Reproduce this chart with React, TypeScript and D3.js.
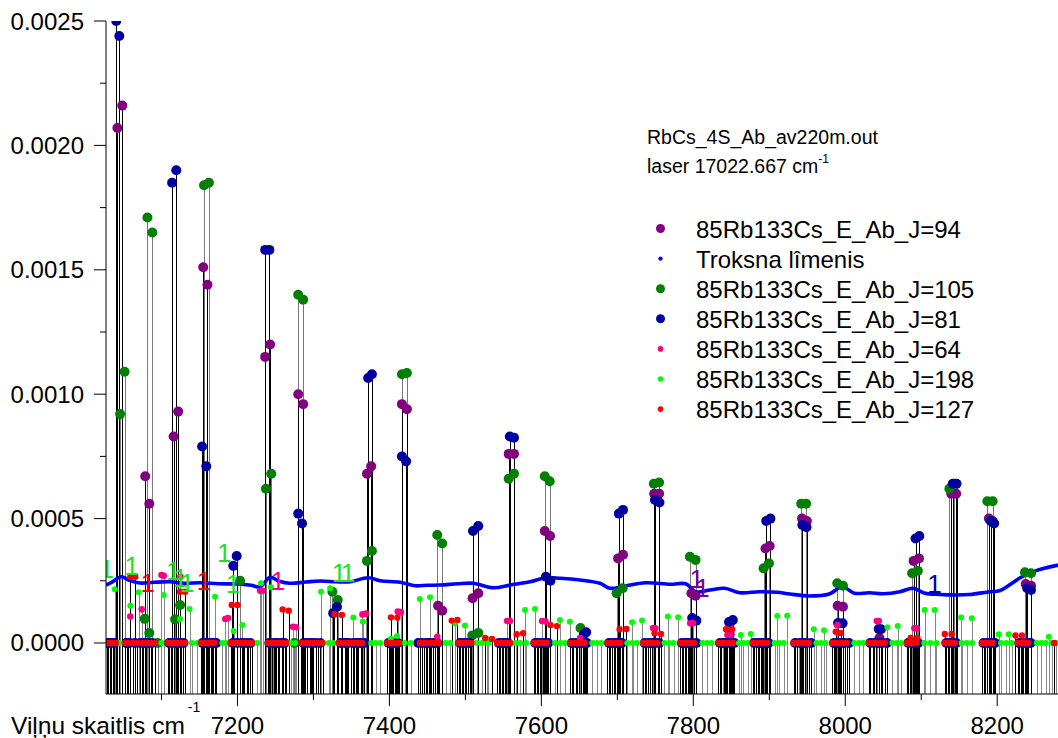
import { useEffect, useRef } from 'react';
import * as d3 from 'd3';

const W = 1058;
const H = 738;
const FONT = "'Liberation Sans', Arial, sans-serif";

// axis ranges and ticks
const X_DOMAIN = [7027, 8280];
const Y_DOMAIN = [-0.000205, 0.0025];
const X_MAJOR = [7200, 7400, 7600, 7800, 8000, 8200];
const X_MINOR = [7100, 7300, 7500, 7700, 7900, 8100];
const Y_MAJOR = [0, 0.0005, 0.001, 0.0015, 0.002, 0.0025];
const Y_MINOR = [0.00025, 0.00075, 0.00125, 0.00175, 0.00225];

// J=94 (purple) lines above zero: [wavenumber, intensity]
const j94Peaks: [number, number][] = [
  [7042, 0.00207], [7048.4, 0.00216], [7078.6, 0.00067], [7084, 0.00056],
  [7116, 0.00083], [7122, 0.00093], [7155, 0.00151], [7160.5, 0.00144],
  [7236.5, 0.00115], [7243, 0.0012], [7280, 0.001], [7286.5, 0.00096],
  [7370.5, 0.00068], [7376, 0.00071], [7416.5, 0.00096], [7423, 0.00094],
  [7464, 0.00015], [7469.5, 0.00013], [7509.5, 0.00018], [7517, 0.0002],
  [7557, 0.00076], [7564, 0.00076], [7604.5, 0.00045], [7611.5, 0.00043],
  [7701, 0.00034], [7707.5, 0.000355], [7748.5, 0.0006], [7755, 0.0006],
  [7797.5, 0.0002], [7803, 0.00019], [7848, 0.000035], [7895, 0.00038],
  [7900.5, 0.00039], [7943, 0.0005], [7949.5, 0.00049], [7990, 0.00015],
  [7997, 0.000146], [8045, 0.00002], [8090, 0.00033], [8097, 0.00034],
  [8139.5, 0.0006], [8146, 0.0006], [8189, 0.0005], [8194, 0.00049],
  [8237.5, 0.000237], [8244.5, 0.00023],
];
const j94Zero = [
  7054, 7076, 7119, 7167, 7207, 7251, 7297, 7344, 7356, 7405, 7452, 7500, 7552, 7600,
  7650, 7697, 7745, 7793, 7840, 7889, 7945, 7993, 8044, 8090, 8140, 8190, 8234,
];

// J=105 (green)
const j105Peaks: [number, number][] = [
  [7045.5, 0.00092], [7051.5, 0.00109], [7078, 0.000097], [7084, 0.00004],
  [7081.5, 0.00171], [7088, 0.00165], [7118, 0.000095], [7124.5, 0.000153],
  [7156, 0.00184], [7162.5, 0.00185], [7203.5, 0.00025], [7237.5, 0.00062],
  [7244.5, 0.00068], [7280, 0.0014], [7286.5, 0.00138], [7325, 0.000206],
  [7332, 0.000173], [7370.5, 0.00033], [7377, 0.00037], [7416.5, 0.00108],
  [7423, 0.001085], [7463, 0.000434], [7469.5, 0.0004], [7509, 0.00003],
  [7517, 0.00004], [7557, 0.00066], [7564, 0.00068], [7604.5, 0.00067],
  [7611, 0.00065], [7651.5, 0.00006], [7699, 0.0002], [7707, 0.00022],
  [7748, 0.00064], [7755, 0.000645], [7795.5, 0.000347], [7803, 0.000334],
  [7892.5, 0.0003], [7899.5, 0.00032], [7942, 0.00056], [7948.5, 0.00056],
  [7989.5, 0.00024], [7997, 0.00023], [8088, 0.00028], [8095.5, 0.00029],
  [8137, 0.00062], [8143.5, 0.00064], [8187, 0.00057], [8194, 0.00057],
  [8236.5, 0.000284], [8244.5, 0.00028],
];
const j105Zero = [7029, 7095, 7170, 7275, 7362, 7460, 7600, 7700];

// J=81 (navy)
const j81Peaks: [number, number][] = [
  [7040.5, 0.0025], [7044.5, 0.00244], [7114, 0.00185], [7119.5, 0.0019],
  [7153.5, 0.00079], [7159, 0.00071], [7194.5, 0.00031], [7199, 0.00035],
  [7236.5, 0.00158], [7242, 0.00158], [7280, 0.00052], [7285, 0.00048],
  [7326, 0.00012], [7331, 0.000146], [7372, 0.001065], [7377, 0.00108],
  [7416.5, 0.00075], [7422, 0.00073], [7510, 0.00045], [7517, 0.00047],
  [7558.5, 0.00083], [7564, 0.000825], [7606, 0.000266], [7612, 0.00025],
  [7656, 0.000035], [7659, 0.000043], [7702, 0.00052], [7707.5, 0.000535],
  [7749.5, 0.000575], [7755.5, 0.000565], [7798.5, 0.0001], [7804, 0.00009],
  [7847, 0.000084], [7852, 0.000092], [7896, 0.00049], [7901.5, 0.0005],
  [7943.5, 0.000474], [7949, 0.000465], [7990.5, 0.00008], [7996.5, 0.000079],
  [8044, 0.000056], [8047, 0.000055], [8092.5, 0.00042], [8097.5, 0.00043],
  [8141.5, 0.00064], [8146.5, 0.00064], [8191.5, 0.00049], [8196, 0.00048],
  [8239.5, 0.00022], [8244.5, 0.000213],
];
const j81Zero = [
  7030, 7034, 7038, 7054, 7058, 7065, 7072, 7078, 7083, 7088,
  7110, 7114, 7119, 7124, 7129, 7154, 7158, 7163, 7168, 7172,
  7194, 7200, 7206, 7212, 7217, 7242, 7248, 7253, 7258, 7262,
  7287, 7292, 7298, 7303, 7309, 7336, 7341, 7346, 7352, 7357, 7362, 7367,
  7399, 7403, 7407, 7411, 7438, 7443, 7448, 7453, 7458, 7463,
  7493, 7497, 7501, 7506, 7544, 7548, 7552, 7556, 7592, 7596, 7600, 7604, 7609,
  7640, 7645, 7650, 7655, 7660, 7689, 7693, 7697, 7701, 7706,
  7736, 7741, 7746, 7750, 7755, 7785, 7789, 7794, 7798, 7804,
  7835, 7840, 7845, 7849, 7854, 7880, 7885, 7890, 7894, 7899,
  7934, 7940, 7945, 7949, 7955, 7985, 7990, 7995, 7999, 8005,
  8033, 8038, 8044, 8049, 8055, 8083, 8087, 8092, 8096,
  8133, 8137, 8142, 8146, 8182, 8187, 8192, 8197, 8229, 8234, 8239, 8244,
];

// J=64 (pink)
const j64Peaks: [number, number][] = [
  [7059, 0.000106], [7074, 0.000135], [7100, 0.000273], [7103, 0.00027],
  [7125, 0.000266], [7184, 0.0000965], [7187.5, 0.0001], [7230, 0.00021],
  [7233, 0.00021], [7273, 0.0000655], [7277, 0.000063], [7364.5, 0.000115],
  [7369, 0.000118], [7411, 0.000126], [7415, 0.000124], [7463, 0.000025],
  [7555, 0.000088], [7558.5, 0.000088], [7601, 0.000088], [7605.5, 0.000086],
  [7651, 0.00002], [7747, 0.00006], [7750, 0.000059], [7796, 0.000079],
  [7799.5, 0.000079], [7845, 0.000032], [7848.5, 0.000032], [7989.5, 0.000072],
  [8041.5, 0.000088], [8044, 0.000088], [8091, 0.000059], [8094, 0.000059],
];
const j64Zero = [
  7034, 7065, 7082, 7114, 7163, 7200, 7247, 7292, 7345, 7403, 7448, 7497, 7548, 7596,
  7645, 7693, 7740, 7789, 7839, 7885, 7939, 7989, 8038, 8087, 8137, 8186, 8233,
];

// J=198 (lime)
const j198Peaks: [number, number][] = [
  [7038.5, 0.000216], [7059, 0.00015], [7070, 0.000204], [7103, 0.000193],
  [7124.5, 0.0000965], [7137, 0.000137], [7170.5, 0.000186], [7195, 0.000048],
  [7206.5, 0.000072], [7231, 0.00024], [7244, 0.000224], [7310, 0.000206],
  [7322, 0.00022], [7352.5, 0.000102], [7365, 0.000086], [7402, 0.000017],
  [7410, 0.000028], [7440, 0.000177], [7453.5, 0.000184], [7486.5, 0.000079],
  [7499.5, 0.00007], [7528, 0.000016], [7578.5, 0.000133], [7591.5, 0.000137],
  [7624.5, 0.0000925], [7637.5, 0.0000857], [7719.5, 0.000083], [7732.5, 0.00009],
  [7766.5, 0.000106], [7780, 0.000103], [7862.5, 0.000032], [7875.5, 0.000036],
  [7910.5, 0.000109], [7923.5, 0.00011], [7958.5, 0.000055], [7972, 0.000051],
  [8055.5, 0.000063], [8069, 0.000068], [8104.5, 0.000133], [8117.5, 0.000133],
  [8152.5, 0.000102], [8166.5, 0.0000992], [8202, 0.000035], [8215, 0.000035],
  [8268, 0.000025],
];
const j198Zero = [
  7045, 7100, 7140, 7147, 7180, 7185, 7226, 7270, 7276, 7320, 7326, 7376, 7382, 7388,
  7420, 7428, 7474, 7480, 7515, 7522, 7530, 7566, 7572, 7580, 7618, 7625, 7631, 7667,
  7673, 7679, 7713, 7720, 7726, 7762, 7768, 7774, 7812, 7818, 7824, 7860, 7866, 7872,
  7907, 7913, 7919, 7962, 7968, 7974, 8012, 8018, 8024, 8062, 8068, 8074, 8104, 8112,
  8120, 8153, 8160, 8167, 8205, 8212, 8219, 8252, 8258, 8264, 8272, 8278,
];

// J=127 (red)
const j127Peaks: [number, number][] = [
  [7059, 0.000266], [7065.5, 0.000266], [7124.5, 0.000206], [7131, 0.000206],
  [7192.5, 0.000153], [7200, 0.000153], [7259.5, 0.000135], [7267.5, 0.00013],
  [7327.5, 0.000117], [7337.5, 0.000113], [7402, 0.000103], [7410.5, 0.000102],
  [7482, 0.00009], [7489.5, 0.0000925], [7526, 0.00002], [7535, 0.000016],
  [7567.5, 0.000035], [7576, 0.000039], [7612, 0.000072], [7620.5, 0.000068],
  [7703, 0.000055], [7712, 0.000056], [7749, 0.000039], [7757.5, 0.000036],
  [7843, 0.000055], [7851, 0.000055], [7987.5, 0.0000455], [7994, 0.00004],
  [8086, 0.00002], [8095, 0.00002], [8131, 0.000036], [8140, 0.000036],
  [8224, 0.00003], [8232.5, 0.00003],
];
const j127Zero = [
  7028, 7032, 7036, 7040, 7052, 7056, 7062, 7068, 7075, 7080, 7086, 7091,
  7108, 7112, 7117, 7121, 7126, 7131, 7152, 7156, 7161, 7165, 7170,
  7191, 7196, 7204, 7209, 7214, 7219, 7240, 7245, 7250, 7255, 7260, 7264,
  7284, 7289, 7295, 7300, 7306, 7312, 7333, 7338, 7343, 7349, 7354, 7359, 7364,
  7397, 7401, 7405, 7409, 7413, 7440, 7445, 7450, 7455, 7460, 7465,
  7491, 7495, 7499, 7503, 7508, 7542, 7546, 7550, 7554, 7559,
  7590, 7594, 7598, 7602, 7607, 7638, 7642, 7647, 7652, 7657,
  7687, 7691, 7695, 7699, 7704, 7734, 7738, 7743, 7748, 7753,
  7783, 7787, 7791, 7796, 7801, 7833, 7837, 7842, 7847, 7852,
  7878, 7882, 7887, 7892, 7897, 7932, 7937, 7942, 7947, 7952,
  7983, 7987, 7992, 7997, 8002, 8031, 8036, 8041, 8047, 8052,
  8081, 8085, 8089, 8094, 8131, 8135, 8139, 8144, 8180, 8184, 8189, 8194,
  8227, 8231, 8236, 8241, 8275,
];

// noise level (Troksna līmenis)
const noise: [number, number][] = [
  [7027, 0.000233], [7035, 0.000245], [7047, 0.000266], [7058, 0.000252], [7072, 0.000241],
  [7090, 0.000244], [7111, 0.000246], [7130, 0.00024], [7151, 0.000242], [7175, 0.000238],
  [7200, 0.000237], [7218, 0.000232], [7230, 0.000226], [7243, 0.000264], [7255, 0.000248],
  [7269, 0.00024], [7290, 0.000245], [7309, 0.000249], [7330, 0.000246], [7348, 0.000246],
  [7372, 0.000262], [7388, 0.00025], [7414, 0.000244], [7434, 0.00023], [7450, 0.000232],
  [7467, 0.000233], [7490, 0.000238], [7510, 0.00024], [7537, 0.000222], [7559, 0.000233],
  [7585, 0.000246], [7605, 0.000262], [7625, 0.00026], [7651, 0.000253], [7677, 0.00024],
  [7690, 0.00022], [7710, 0.000229], [7737, 0.000242], [7770, 0.000236], [7790, 0.000238],
  [7803, 0.000206], [7822, 0.000213], [7841, 0.00022], [7861, 0.000202], [7887, 0.000206],
  [7910, 0.000204], [7927, 0.000197], [7953, 0.000189], [7979, 0.000197], [7996, 0.000226],
  [8012, 0.0002], [8032, 0.000202], [8050, 0.000198], [8072, 0.000206], [8089, 0.00022],
  [8105, 0.0002], [8124, 0.000195], [8145, 0.000193], [8164, 0.000195], [8190, 0.000206],
  [8203, 0.00021], [8216, 0.000233], [8229, 0.00026], [8242, 0.00028], [8262, 0.0003],
  [8280, 0.000313],
];

// "1" annotations: [wavenumber, baseline intensity, series key]
const oneLabels: [number, number, string][] = [
  [7028, 0.00026, 'j198'], [7061, 0.000273, 'j198'], [7082, 0.000205, 'j127'],
  [7115.5, 0.000253, 'j198'], [7124.7, 0.000225, 'j198'], [7134, 0.000205, 'j198'],
  [7156, 0.000213, 'j127'], [7182.5, 0.000326, 'j198'], [7194, 0.000201, 'j198'],
  [7253.5, 0.000213, 'j64'], [7333.6, 0.000245, 'j198'], [7345.5, 0.000245, 'j198'],
  [7804.5, 0.000221, 'j94'], [7812, 0.000185, 'j94'], [8117.3, 0.000201, 'j81'],
];

const SERIES = [
  { key: 'j94', name: '85Rb133Cs_E_Ab_J=94', color: '#800080', r: 5, lr: 4.5, stem: '#000', peaks: j94Peaks, zeros: j94Zero },
  { key: 'j105', name: '85Rb133Cs_E_Ab_J=105', color: '#008000', r: 5, lr: 4.5, stem: '#777', peaks: j105Peaks, zeros: j105Zero },
  { key: 'j81', name: '85Rb133Cs_E_Ab_J=81', color: '#0000A0', r: 5, lr: 4.5, stem: '#000', peaks: j81Peaks, zeros: j81Zero },
  { key: 'j64', name: '85Rb133Cs_E_Ab_J=64', color: '#FF0080', r: 3.3, lr: 2.8, stem: '#888', peaks: j64Peaks, zeros: j64Zero },
  { key: 'j198', name: '85Rb133Cs_E_Ab_J=198', color: '#00FF00', r: 3, lr: 2.8, stem: '#888', peaks: j198Peaks, zeros: j198Zero },
  { key: 'j127', name: '85Rb133Cs_E_Ab_J=127', color: '#FF0000', r: 3.2, lr: 2.8, stem: '#000', peaks: j127Peaks, zeros: j127Zero },
];
const NOISE = { name: 'Troksna lîmenis', color: '#0000FF' };
const LEGEND_ORDER = ['j94', 'noise', 'j105', 'j81', 'j64', 'j198', 'j127'];

export default function App() {
  const ref = useRef<SVGSVGElement>(null);

  useEffect(() => {
    const svg = d3.select(ref.current);
    svg.selectAll('*').remove();

    const left = 106, right = W, top = 21, bottom = 694;
    const x = d3.scaleLinear().domain(X_DOMAIN).range([left, right]);
    const y = d3.scaleLinear().domain(Y_DOMAIN).range([bottom, top]);

    svg.append('defs').append('clipPath').attr('id', 'plot')
      .append('rect').attr('x', left).attr('y', top).attr('width', right - left).attr('height', bottom - top);

    const g = svg.append('g').attr('clip-path', 'url(#plot)');

    const pts = (s: typeof SERIES[number]) =>
      s.peaks.concat(s.zeros.map((v) => [v, 0] as [number, number]));

    // drop lines: grey ones first, black on top
    const stemOrder = [...SERIES].sort((a, b) => (a.stem === '#000' ? 1 : 0) - (b.stem === '#000' ? 1 : 0));
    stemOrder.forEach((s) => {
      g.append('g').selectAll('line').data(pts(s)).join('line')
        .attr('x1', (d) => Math.round(x(d[0])) + 0.5)
        .attr('x2', (d) => Math.round(x(d[0])) + 0.5)
        .attr('y1', (d) => y(d[1]))
        .attr('y2', bottom)
        .attr('stroke', s.stem)
        .attr('stroke-width', 1)
        .attr('shape-rendering', 'crispEdges');
    });

    // noise level
    const line = d3.line<[number, number]>().x((d) => x(d[0])).y((d) => y(d[1])).curve(d3.curveCatmullRom);
    g.append('path').datum(noise).attr('d', line)
      .attr('fill', 'none').attr('stroke', NOISE.color).attr('stroke-width', 3.6);

    // markers
    SERIES.forEach((s) => {
      g.append('g').selectAll('circle').data(pts(s)).join('circle')
        .attr('cx', (d) => x(d[0]))
        .attr('cy', (d) => y(d[1]))
        .attr('r', s.r)
        .attr('fill', s.color);
    });

    // "1" labels
    const colorOf = (k: string) => SERIES.find((s) => s.key === k)!.color;
    g.append('g').selectAll('text').data(oneLabels).join('text')
      .attr('x', (d) => x(d[0]))
      .attr('y', (d) => y(d[1]))
      .attr('text-anchor', 'middle')
      .attr('font-family', FONT)
      .attr('font-size', 26)
      .attr('fill', (d) => (d[2] === 'j198' ? '#22E022' : colorOf(d[2])))
      .text('1');

    // axes
    const ax = svg.append('g').attr('stroke', '#000').attr('stroke-width', 1);
    ax.append('line').attr('x1', left).attr('x2', left).attr('y1', top).attr('y2', bottom);
    ax.append('line').attr('x1', left).attr('x2', right).attr('y1', bottom).attr('y2', bottom);
    ax.selectAll('.ymaj').data(Y_MAJOR).join('line')
      .attr('x1', left - 12).attr('x2', left).attr('y1', (d) => y(d)).attr('y2', (d) => y(d));
    ax.selectAll('.ymin').data(Y_MINOR).join('line').attr('class', 'ymin')
      .attr('x1', left - 6).attr('x2', left).attr('y1', (d) => y(d)).attr('y2', (d) => y(d));
    ax.selectAll('.xmaj').data(X_MAJOR).join('line').attr('class', 'xmaj')
      .attr('x1', (d) => x(d)).attr('x2', (d) => x(d)).attr('y1', bottom).attr('y2', bottom + 12);
    ax.selectAll('.xmin').data(X_MINOR).join('line').attr('class', 'xmin')
      .attr('x1', (d) => x(d)).attr('x2', (d) => x(d)).attr('y1', bottom).attr('y2', bottom + 6);

    const txt = svg.append('g').attr('font-family', FONT).attr('fill', '#000');
    txt.selectAll('.yl').data(Y_MAJOR).join('text').attr('class', 'yl')
      .attr('x', 84).attr('y', (d) => y(d) + 8.5)
      .attr('text-anchor', 'end').attr('font-size', 24)
      .text((d) => d.toFixed(4));
    txt.selectAll('.xl').data(X_MAJOR).join('text').attr('class', 'xl')
      .attr('x', (d) => x(d)).attr('y', 734)
      .attr('text-anchor', 'middle').attr('font-size', 24)
      .text((d) => String(d));

    const xt = txt.append('text').attr('x', 11).attr('y', 734).attr('font-size', 24.5);
    xt.append('tspan').text('Viļņu skaitlis cm');
    xt.append('tspan').attr('dx', 3).attr('dy', -22).attr('font-size', 14).text('-1');

    // file / laser annotation
    txt.append('text').attr('x', 647).attr('y', 144).attr('font-size', 19.5).text('RbCs_4S_Ab_av220m.out');
    const ls = txt.append('text').attr('x', 647).attr('y', 173).attr('font-size', 19.5);
    ls.append('tspan').text('laser 17022.667 cm');
    ls.append('tspan').attr('dy', -10).attr('font-size', 12).text('-1');

    // legend
    LEGEND_ORDER.forEach((k, i) => {
      const cy = 228.5 + i * 30.1;
      const s = SERIES.find((d) => d.key === k);
      txt.append('circle').attr('cx', 660.5).attr('cy', cy)
        .attr('r', s ? s.lr : 2.2).attr('fill', s ? s.color : NOISE.color);
      txt.append('text').attr('x', 696).attr('y', cy + 9).attr('font-size', 24)
        .text(s ? s.name : NOISE.name);
    });
  }, []);

  return (
    <svg
      ref={ref}
      width={W}
      height={H}
      style={{ position: 'absolute', left: 0, top: 0, background: '#fff' }}
    />
  );
}
